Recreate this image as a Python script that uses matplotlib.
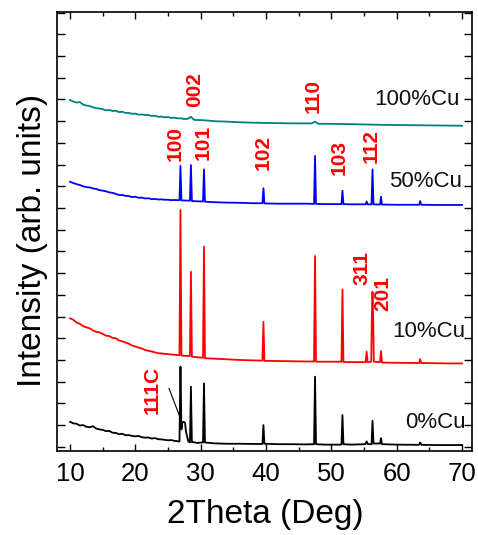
import matplotlib
matplotlib.use("Agg")
import matplotlib.pyplot as plt
from matplotlib.ticker import MultipleLocator, NullFormatter

plt.rcParams['font.family'] = ['Liberation Sans', 'DejaVu Sans']

# ---------------- data (2Theta in deg, intensity in tick units, offset per sample) ----------------
x_0cu = [10, 10.5, 11, 11.5, 12, 12.5, 13, 13.5, 14, 14.5, 15, 15.5, 16, 16.5, 17, 17.5, 18, 18.5, 19, 19.5,
         20, 20.5, 21, 21.5, 22, 22.5, 23, 23.5, 24, 24.5, 25, 25.5, 26, 26.4, 26.75, 26.9, 27.05, 27.2, 27.4,
         27.6, 27.75, 27.9, 28.1, 28.35, 28.5, 28.65, 29.5, 30.35, 30.5, 30.65, 32, 34, 36, 38, 39.45, 39.6,
         39.75, 42, 44, 46, 47.35, 47.5, 47.65, 49, 51.55, 51.7, 51.85, 53, 55.2, 55.4, 55.6, 56.15, 56.3,
         56.45, 57.45, 57.6, 57.75, 60, 63.4, 63.6, 63.8, 66, 68, 70]
y_0cu = [0.15, 0.08, 0.06, -0.02, 0.0, -0.08, -0.1, -0.05, -0.16, -0.2, -0.22, -0.28, -0.27, -0.35, -0.36, -0.42,
         -0.4, -0.47, -0.46, -0.5, -0.52, -0.5, -0.56, -0.58, -0.57, -0.62, -0.6, -0.65, -0.66, -0.68, -0.7, -0.69,
         -0.73, -0.74, -0.76, 2.69, -0.2, 0.12, 0.15, 0.1, -0.3, -0.5, -0.75, -0.8, 1.77, -0.78, -0.82, -0.8,
         1.92, -0.8, -0.84, -0.86, -0.86, -0.87, -0.87, 0.0, -0.86, -0.88, -0.88, -0.89, -0.88, 2.23, -0.88,
         -0.9, -0.9, 0.46, -0.88, -0.9, -0.88, -0.75, -0.88, -0.88, 0.2, -0.85, -0.85, -0.6, -0.88, -0.9,
         -0.91, -0.8, -0.91, -0.92, -0.92, -0.92]

x_10cu = [10, 10.5, 11, 11.5, 12, 12.5, 13, 13.5, 14, 14.5, 15, 15.5, 16, 16.5, 17, 17.5, 18, 18.5, 19, 19.5,
          20, 20.5, 21, 21.5, 22, 22.5, 23, 23.5, 24, 24.5, 25, 25.5, 26, 26.75, 26.9, 27.05, 28.35, 28.5,
          28.65, 30.35, 30.5, 30.65, 32, 34, 36, 38, 39.45, 39.6, 39.75, 42, 44, 46, 47.35, 47.5, 47.65, 49,
          51.55, 51.7, 51.85, 53, 55.25, 55.4, 55.55, 56.1, 56.2, 56.3, 56.4, 56.5, 57.45, 57.6, 57.75, 60,
          63.45, 63.6, 63.75, 66, 68, 70]
y_10cu = [4.92, 4.85, 4.72, 4.66, 4.56, 4.5, 4.46, 4.36, 4.3, 4.27, 4.2, 4.12, 4.1, 4.02, 4.0, 3.9, 3.86, 3.8,
          3.75, 3.66, 3.62, 3.57, 3.52, 3.46, 3.42, 3.39, 3.35, 3.31, 3.3, 3.28, 3.27, 3.25, 3.24, 3.22, 9.91,
          3.2, 3.18, 7.06, 3.15, 3.1, 8.22, 3.08, 3.06, 3.03, 3.0, 2.98, 2.97, 4.76, 2.96, 2.95, 2.94, 2.93,
          2.93, 7.79, 2.92, 2.92, 2.92, 6.25, 2.91, 2.9, 2.9, 3.38, 2.9, 2.92, 4.99, 6.14, 4.99, 2.92, 2.9,
          3.41, 2.88, 2.87, 2.86, 3.04, 2.86, 2.85, 2.84, 2.84]

x_50cu = [10, 10.5, 11, 11.5, 12, 12.5, 13, 13.5, 14, 14.5, 15, 15.5, 16, 16.5, 17, 17.5, 18, 18.5, 19, 19.5,
          20, 20.5, 21, 21.5, 22, 22.5, 23, 23.5, 24, 24.5, 25, 25.5, 26, 26.75, 26.9, 27.05, 28.35, 28.5,
          28.65, 30.35, 30.5, 30.65, 32, 34, 36, 38, 39.45, 39.6, 39.75, 42, 44, 46, 47.35, 47.5, 47.65, 49,
          51.55, 51.7, 51.85, 53, 55.25, 55.4, 55.55, 56.15, 56.3, 56.45, 57.45, 57.6, 57.75, 60, 63.45, 63.6,
          63.75, 66, 68, 70]
y_50cu = [11.21, 11.15, 11.1, 11.06, 11.0, 10.96, 10.95, 10.9, 10.88, 10.82, 10.8, 10.77, 10.72, 10.7, 10.65,
          10.6, 10.6, 10.56, 10.55, 10.5, 10.52, 10.47, 10.48, 10.44, 10.45, 10.41, 10.42, 10.39, 10.4, 10.38,
          10.38, 10.36, 10.37, 10.36, 11.94, 10.35, 10.34, 11.98, 10.32, 10.3, 11.78, 10.29, 10.27, 10.25,
          10.24, 10.22, 10.22, 10.91, 10.21, 10.2, 10.2, 10.2, 10.19, 12.4, 10.19, 10.18, 10.18, 10.8, 10.18,
          10.17, 10.17, 10.3, 10.17, 10.17, 11.78, 10.17, 10.16, 10.52, 10.16, 10.15, 10.15, 10.32, 10.15,
          10.14, 10.14, 10.14]

x_100cu = [10, 10.5, 11, 11.5, 12, 12.5, 13, 13.5, 14, 14.5, 15, 15.5, 16, 16.5, 17, 17.5, 18, 18.5, 19, 19.5,
           20, 20.5, 21, 21.5, 22, 22.5, 23, 23.5, 24, 24.5, 25, 25.5, 26, 26.5, 27, 27.5, 28, 28.5, 29, 30,
           31, 32, 34, 36, 38, 40, 42, 44, 46, 47, 47.5, 48, 49, 52, 55, 58, 61, 64, 67, 70]
y_100cu = [14.98, 14.9, 14.86, 14.88, 14.76, 14.72, 14.7, 14.64, 14.6, 14.58, 14.55, 14.5, 14.52, 14.47, 14.48,
           14.42, 14.43, 14.38, 14.38, 14.34, 14.35, 14.3, 14.31, 14.28, 14.28, 14.24, 14.25, 14.2, 14.21,
           14.18, 14.19, 14.15, 14.16, 14.13, 14.13, 14.1, 14.11, 14.2, 14.06, 14.05, 14.03, 14.0, 13.98, 13.95,
           13.93, 13.92, 13.91, 13.9, 13.9, 13.9, 13.98, 13.88, 13.88, 13.87, 13.85, 13.83, 13.82, 13.81, 13.8,
           13.79]

series_names = ["0%Cu", "10%Cu", "50%Cu", "100%Cu"]
series_colors = ["#000000", "#ff0000", "#0000ff", "#008080"]

# sample name labels: (x right edge, y center)
name_pos_x = [70.5, 70.5, 70.0, 69.7]
name_pos_y = [0.14, 4.29, 11.2, 15.02]

# Miller index labels
hkl_labels = ["002", "110", "100", "101", "102", "103", "112", "311", "201", "111C"]
hkl_x = [29.0, 47.2, 26.1, 30.4, 39.5, 51.2, 56.1, 54.7, 57.9, 22.6]
hkl_y = [15.44, 15.16, 12.95, 13.04, 12.58, 12.35, 12.86, 7.24, 6.08, 1.61]

xticks = [10, 20, 30, 40, 50, 60, 70]

# ---------------- plot ----------------
fig = plt.figure(figsize=(4.78, 5.35), dpi=100)
ax = fig.add_axes([57 / 478, (535 - 450.7) / 535, (472 - 57) / 478, (450.7 - 12) / 535])

xs = [x_0cu, x_10cu, x_50cu, x_100cu]
ys = [y_0cu, y_10cu, y_50cu, y_100cu]
for xv, yv, c in zip(xs, ys, series_colors):
    ax.plot(xv, yv, color=c, lw=1.3)

for name, px, py in zip(series_names, name_pos_x, name_pos_y):
    ax.text(px, py, name, ha='right', va='center', fontsize=16, color='#111111')

for lab, px, py in zip(hkl_labels, hkl_x, hkl_y):
    ax.text(px, py, lab, rotation=90, ha='center', va='center', fontsize=15,
            fontweight='bold', color='#ff0000')

# pointer line for 111C
ax.plot([25.15, 27.1], [1.69, 0.15], color='black', lw=0.8)

ax.set_xlim(8.0, 71.53)
ax.set_ylim(-1.18, 19.03)
ax.set_xticks(xticks)
ax.xaxis.set_minor_locator(MultipleLocator(5))
ax.yaxis.set_major_locator(MultipleLocator(1))
ax.yaxis.set_major_formatter(NullFormatter())
ax.tick_params(axis='both', which='both', direction='in', top=True, right=True, width=1.0)
ax.tick_params(axis='x', which='major', length=5, labelsize=18.5, pad=8)
ax.tick_params(axis='x', which='minor', length=3)
ax.tick_params(axis='y', which='major', length=5.5)
for s in ax.spines.values():
    s.set_linewidth(1.2)

fig.text(33 / 478, 1 - 240 / 535, "Intensity (arb. units)", rotation=90, ha='center', va='center',
         fontsize=24)
fig.text(265 / 478, 1 - 514 / 535, "2Theta (Deg)", ha='center', va='center', fontsize=24)

fig.savefig("out.png", dpi=100)
